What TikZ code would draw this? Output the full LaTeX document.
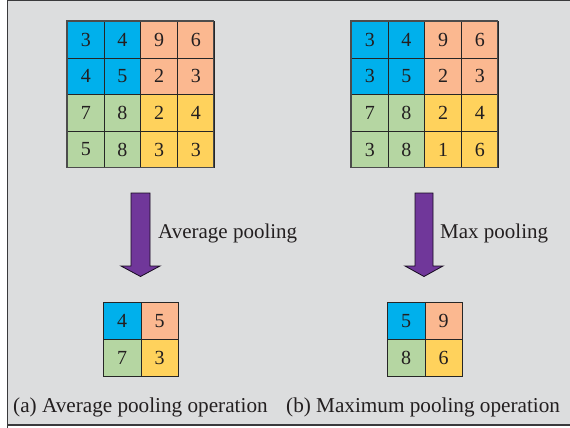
\documentclass[tikz,border=0pt]{standalone}
\usepackage{fontspec}
\setmainfont{Liberation Serif}
\definecolor{bgc}{HTML}{DCDDDE}
\definecolor{cblue}{HTML}{00B0EC}
\definecolor{csalmon}{HTML}{FBB890}
\definecolor{cgreen}{HTML}{B5D6A2}
\definecolor{cyellow}{HTML}{FFD25C}
\definecolor{cpurple}{HTML}{70379A}
\definecolor{cframe}{HTML}{3A3A3C}
\definecolor{ctext}{HTML}{231F20}
\tikzset{
  cellbox/.style={draw=black!85, line width=0.8pt, minimum width=36.7pt, minimum height=36.6pt, inner sep=0pt, anchor=north west, font=\fontsize{20}{20}\selectfont, text=ctext},
  smallcell/.style={cellbox, minimum width=37.5pt, minimum height=37pt},
  bigarrow/.style={fill=cpurple, draw=black!80!cpurple, line width=0.8pt, line join=miter},
  lbl/.style={anchor=base west, inner sep=0pt, font=\fontsize{21}{21}\selectfont, text=ctext},
  caplbl/.style={lbl, font=\fontsize{21.2}{21.2}\selectfont}
}
\begin{document}
\begin{tikzpicture}[x=1pt,y=-1pt]
\useasboundingbox (0,0) rectangle (570,428);
\fill[bgc] (7,0) rectangle (570,425);
\draw[cframe, line width=1.6pt] (7.5,428) -- (7.5,0.6) -- (570,0.6);
\draw[cframe, line width=1.6pt] (7,425) -- (570,425);
% left 4x4 grid
\foreach \r/\vals in {0/{3,4,9,6},1/{4,5,2,3},2/{7,8,2,4},3/{5,8,3,3}}{
  \foreach \v [count=\c from 0] in \vals {
    \pgfmathsetmacro{\col}{\r<2 ? (\c<2 ? 1 : 2) : (\c<2 ? 3 : 4)}
    \ifcase\numexpr\col\relax\or\def\fc{cblue}\or\def\fc{csalmon}\or\def\fc{cgreen}\or\def\fc{cyellow}\fi
    \node[cellbox, fill=\fc] (L\r\c) at ({67+36.7*\c},{21+36.6*\r}) {\v};
  }
}
% right 4x4 grid
\foreach \r/\vals in {0/{3,4,9,6},1/{3,5,2,3},2/{7,8,2,4},3/{3,8,1,6}}{
  \foreach \v [count=\c from 0] in \vals {
    \pgfmathsetmacro{\col}{\r<2 ? (\c<2 ? 1 : 2) : (\c<2 ? 3 : 4)}
    \ifcase\numexpr\col\relax\or\def\fc{cblue}\or\def\fc{csalmon}\or\def\fc{cgreen}\or\def\fc{cyellow}\fi
    \node[cellbox, fill=\fc] (R\r\c) at ({351+36.7*\c},{21+36.6*\r}) {\v};
  }
}
% outer frames
\draw[black!70, line width=1.2pt] (67,21) rectangle (213.8,167.4);
\draw[black!70, line width=1.2pt] (351,21) rectangle (497.8,167.4);
% small grids
\node[smallcell, fill=cblue] (a00) at (103,302) {4};
\node[smallcell, fill=csalmon] (a01) at (140.5,302) {5};
\node[smallcell, fill=cgreen] (a10) at (103,339) {7};
\node[smallcell, fill=cyellow] (a11) at (140.5,339) {3};
\node[smallcell, fill=cblue] (b00) at (387,302) {5};
\node[smallcell, fill=csalmon] (b01) at (424.5,302) {9};
\node[smallcell, fill=cgreen] (b10) at (387,339) {8};
\node[smallcell, fill=cyellow] (b11) at (424.5,339) {6};
% arrows
\draw[bigarrow] (131,193) -- (150,193) -- (150,266) -- (160,266) -- (140.5,276.5) -- (121,266) -- (131,266) -- cycle;
\draw[bigarrow] (415,193) -- (433,193) -- (433,266) -- (443,266) -- (424,276.5) -- (405,266) -- (415,266) -- cycle;
% labels
\node[lbl] (avg) at (158,238.5) {Average pooling};
\node[lbl] (mx) at (440,238.5) {Max pooling};
\node[caplbl] (capa) at (13,412) {(a) Average pooling operation};
\node[caplbl] (capb) at (286,412) {(b) Maximum pooling operation};
\end{tikzpicture}
\end{document}
